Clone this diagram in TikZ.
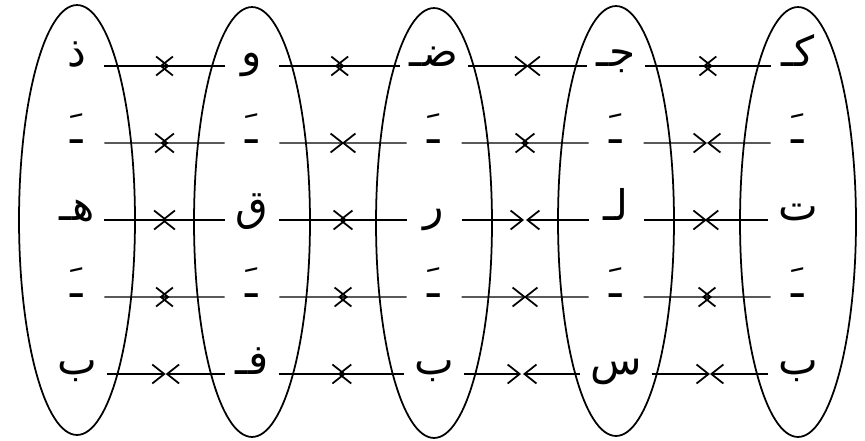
\documentclass[tikz,border=0pt]{standalone}
\usepackage{fontspec}
\usepackage{tikz}
\usetikzlibrary{calc,arrows.meta,shapes.geometric,positioning}
\newfontfamily\arabicfont[Script=Arabic]{DejaVu Sans}
\TeXXeTstate=1
\newcommand{\arword}[1]{\beginR#1\endR}
\tikzset{
myRing/.style={
	ellipse, draw, line width=1pt,
	minimum width=2.32cm, minimum height=8.6cm,
	inner sep=0pt
}
, myLetter/.style={
	rectangle, inner sep=0pt, outer sep=0.2cm, minimum width=0.7cm,
	font=\arabicfont\fontsize{24}{28}\selectfont, text=black
}
% link
, myHalf/.style={-{Straight Barb[length=0.24cm,width=0.38cm,line width=1pt]},line width=0.7pt}
}
% two halves meeting in the middle, #3 = overlap of the tips
\newcommand{\myMeet}[3]{
	\draw[myHalf] (#1.base east) -- ($(#1.base east)!.5!(#2.base west)+(#3,0)$);
	\draw[myHalf] (#2.base west) -- ($(#1.base east)!.5!(#2.base west)-(#3,0)$);
}

\begin{document}
\begin{tikzpicture}[x=0.02cm,y=-0.02cm]
	\useasboundingbox (0,0) rectangle (865,440);
	% rings
	\node[myRing] (RingA) at ( 77,220) {};
	\node[myRing] (RingB) at (252,222) {};
	\node[myRing] (RingC) at (434,223) {};
	\node[myRing] (RingD) at (616,221) {};
	\node[myRing] (RingE) at (798,222) {};
	% letters
	\node[myLetter,anchor=base] (A1) at ( 77, 66) {\arword{ذ}};
	\node[myLetter,anchor=base] (B1) at (252, 66) {\arword{و}};
	\node[myLetter,anchor=base] (C1) at (434, 66) {\arword{ضـ}};
	\node[myLetter,anchor=base] (D1) at (616, 66) {\arword{جـ}};
	\node[myLetter,anchor=base] (E1) at (798, 66) {\arword{كـ}};

	\node[myLetter,anchor=base] (A2) at ( 77,143) {\arword{ـَ}};
	\node[myLetter,anchor=base] (B2) at (252,143) {\arword{ـَ}};
	\node[myLetter,anchor=base] (C2) at (434,143) {\arword{ـَ}};
	\node[myLetter,anchor=base] (D2) at (616,143) {\arword{ـَ}};
	\node[myLetter,anchor=base] (E2) at (798,143) {\arword{ـَ}};

	\node[myLetter,anchor=base] (A3) at ( 77,220) {\arword{هـ}};
	\node[myLetter,anchor=base] (B3) at (252,220) {\arword{ق}};
	\node[myLetter,anchor=base] (C3) at (434,220) {\arword{ر}};
	\node[myLetter,anchor=base] (D3) at (616,220) {\arword{لـ}};
	\node[myLetter,anchor=base] (E3) at (798,220) {\arword{ت}};

	\node[myLetter,anchor=base] (A4) at ( 77,297) {\arword{ـَ}};
	\node[myLetter,anchor=base] (B4) at (252,297) {\arword{ـَ}};
	\node[myLetter,anchor=base] (C4) at (434,297) {\arword{ـَ}};
	\node[myLetter,anchor=base] (D4) at (616,297) {\arword{ـَ}};
	\node[myLetter,anchor=base] (E4) at (798,297) {\arword{ـَ}};

	\node[myLetter,anchor=base] (A5) at ( 77,374) {\arword{ب}};
	\node[myLetter,anchor=base] (B5) at (252,374) {\arword{فـ}};
	\node[myLetter,anchor=base] (C5) at (434,374) {\arword{ب}};
	\node[myLetter,anchor=base] (D5) at (616,374) {\arword{س}};
	\node[myLetter,anchor=base] (E5) at (798,374) {\arword{ب}};

	% links
	\myMeet{A1}{B1}{5} \myMeet{B1}{C1}{5} \myMeet{C1}{D1}{1}  \myMeet{D1}{E1}{5}
	\myMeet{A2}{B2}{4} \myMeet{B2}{C2}{1} \myMeet{C2}{D2}{4}  \myMeet{D2}{E2}{0}
	\myMeet{A3}{B3}{3} \myMeet{B3}{C3}{4} \myMeet{C3}{D3}{-1} \myMeet{D3}{E3}{1}
	\myMeet{A4}{B4}{5} \myMeet{B4}{C4}{5} \myMeet{C4}{D4}{1}  \myMeet{D4}{E4}{5}
	\myMeet{A5}{B5}{0} \myMeet{B5}{C5}{4} \myMeet{C5}{D5}{-1} \myMeet{D5}{E5}{0}
\end{tikzpicture}
\end{document}
